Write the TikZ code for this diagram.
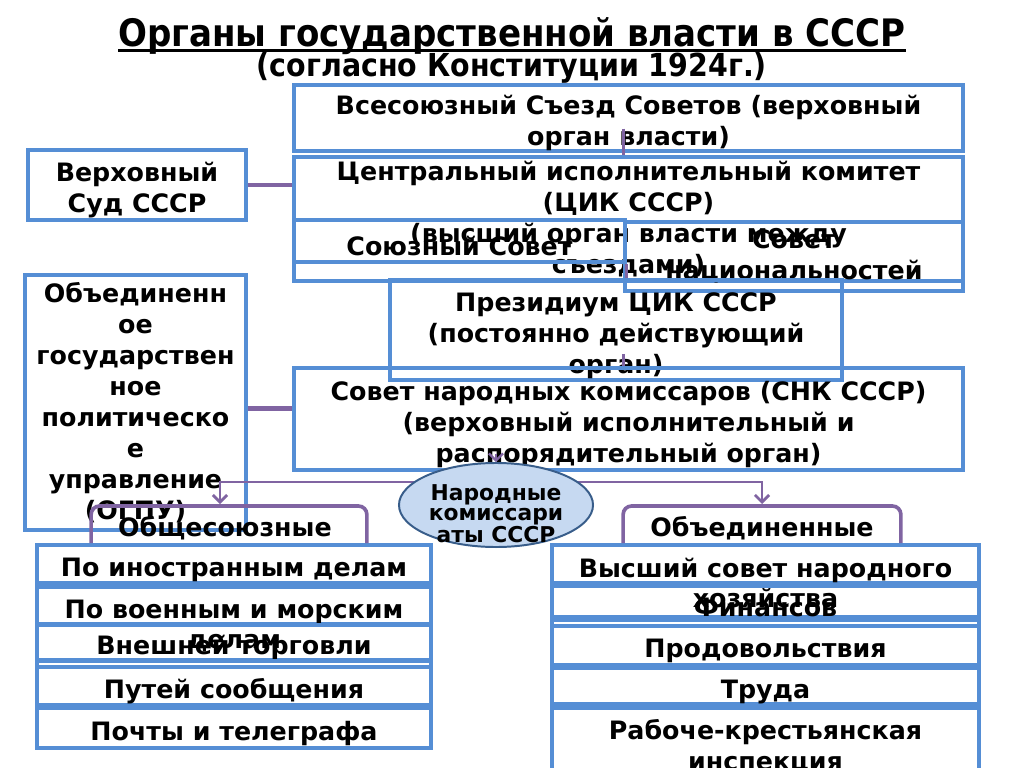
\documentclass[tikz,border=0pt]{standalone}
\usepackage{fontspec}
\setmainfont{DejaVu Sans}
\newfontfamily\titlefont{DejaVu Sans Condensed}
\usetikzlibrary{arrows.meta, positioning, shapes.geometric}
\definecolor{boxblue}{HTML}{558ED5}
\definecolor{linkpurple}{HTML}{8064A2}
\definecolor{ovalfill}{HTML}{C6D9F1}
\definecolor{ovaldraw}{HTML}{385D8A}
\newcommand\organfont{\bfseries\fontsize{18}{22}\selectfont}
\newcommand\dn{\rule{0pt}{21pt}}
\tikzset{
  organ/.style={
    rectangle, draw=boxblue, line width=2.6pt,
    inner sep=0pt, align=center, font=\organfont
  },
  caption/.style={font=\organfont, align=center, inner sep=0pt},
  heading/.style={font=\titlefont\bfseries\fontsize{26.9}{30}\selectfont, inner sep=0pt, anchor=base},
  subheading/.style={font=\titlefont\bfseries\fontsize{22.5}{26}\selectfont, inner sep=0pt, anchor=base},
  oval/.style={
    ellipse, draw=ovaldraw, fill=ovalfill, line width=1.4pt, inner sep=0pt,
    minimum width=4.85cm, minimum height=2.1cm
  },
  link/.style={draw=linkpurple, line width=3.5pt},
  stub/.style={draw=linkpurple, line width=2.2pt},
  fork/.style={draw=linkpurple, line width=2pt,
               {Straight Barb[length=5pt,width=10pt]}-{Straight Barb[length=5pt,width=10pt]}},
  bracket/.style={draw=linkpurple, line width=2.6pt, rounded corners=6pt},
}

\begin{document}
\begin{tikzpicture}[x=0.025cm, y=-0.025cm]
  \fill[white] (0,0) rectangle (1024,768);
  \useasboundingbox (0,0) rectangle (1024,768);

  % title
  \node[heading] (title) at (512,47) {Органы государственной власти в СССР};
  \draw[line width=2pt] ([yshift=-2.6pt]title.base west) -- ([yshift=-2.6pt]title.base east);
  \node[subheading] (subtitle) at (512,77) {(согласно Конституции 1924г.)};

  % higher organs
  \node[organ, minimum width=16.725cm, minimum height=1.6cm] (congress) at (628.5,118)
    {\dn Всесоюзный Съезд Советов (верховный\\орган власти)};
  \node[organ, minimum width=16.725cm, minimum height=3.1cm] (cec) at (628.5,219)
    {Центральный исполнительный комитет\\(ЦИК СССР)\\(высший орган власти между\\съездами)};
  \node[organ, minimum width=8.275cm, minimum height=1.05cm] (union) at (459.5,241)
    {\dn Союзный Совет};
  \node[organ, minimum width=8.45cm, minimum height=1.725cm] (nations) at (794,256.5)
    {Совет\\национальностей};
  \node[organ, minimum width=11.3cm, minimum height=2.5cm] (presid) at (616,330)
    {\dn Президиум ЦИК СССР\\(постоянно действующий\\орган)};
  \node[organ, minimum width=16.725cm, minimum height=2.55cm] (snk) at (628.5,419)
    {\dn Совет народных комиссаров (СНК СССР)\\(верховный исполнительный и\\распорядительный орган)};
  \node[organ, minimum width=5.45cm, minimum height=1.75cm] (court) at (137,185)
    {\dn Верховный\\Суд СССР};
  \node[organ, minimum width=5.525cm, minimum height=6.375cm] (ogpu) at (135.5,402.5)
    {Объединенн\\ое\\государствен\\ное\\политическо\\е\\управление\\(ОГПУ)};

  % commissariats
  \coordinate (forkpt) at (496,482);
  \coordinate (allin) at (220,504);
  \coordinate (jointin) at (762,504);
  \draw[fork] (allin) |- (forkpt) -| (jointin);
  \node[oval] (nk) at (496,505) {};
  \node[font=\bfseries\fontsize{15.5}{14.2}\selectfont, align=center, inner sep=0pt] (nktxt)
    at (496,514) {Народные\\комиссари\\аты СССР};

  \coordinate (alltop) at (229,506);
  \coordinate (jointtop) at (762,506);
  \node[caption] (allunion) at (225,528) {Общесоюзные};
  \node[caption] (joint) at (762,528) {Объединенные};

  % all-union list
  \node[organ, minimum width=9.85cm, minimum height=0.95cm] (foreign) at (234,564) {\dn По иностранным делам};
  \node[organ, minimum width=9.85cm, minimum height=0.925cm] (military) at (234,605.5) {};
  \node[caption] (militarytxt) at (234,626) {По военным и морским\\делам};
  \node[organ, minimum width=9.85cm, minimum height=0.725cm] (trade) at (234,642.5) {\dn Внешней торговли};
  \node[organ, minimum width=9.85cm, minimum height=0.15cm] (tradestrip) at (234,664) {};
  \node[organ, minimum width=9.85cm, minimum height=0.95cm] (route) at (234,686) {\dn Путей сообщения};
  \node[organ, minimum width=9.85cm, minimum height=1cm] (post) at (234,728) {\dn Почты и телеграфа};

  % joint list
  \node[organ, minimum width=10.675cm, minimum height=0.95cm] (vsnh) at (765.5,564) {};
  \node[caption] (vsnhtxt) at (765.5,583) {Высший совет народного\\хозяйства};
  \node[organ, minimum width=10.675cm, minimum height=0.725cm] (finance) at (765.5,601.5) {\dn Финансов};
  \node[organ, minimum width=10.675cm, minimum height=0.15cm] (finstrip) at (765.5,623) {};
  \node[organ, minimum width=10.675cm, minimum height=0.975cm] (food) at (765.5,645.5) {\dn Продовольствия};
  \node[organ, minimum width=10.675cm, minimum height=0.9cm] (labor) at (765.5,686) {\dn Труда};
  \node[organ, minimum width=10.675cm, minimum height=1.7cm] (rki) at (765.5,742)
    {\dn Рабоче-крестьянская\\инспекция};

  % connectors
  \draw[link] (court.east) -- (court.east -| cec.west);
  \draw[link] ([yshift=-0.15cm]ogpu.east) -- ([yshift=-0.15cm]ogpu.east -| snk.west);
  \draw[stub] ([yshift=0.6cm]congress.south -| nations.west) -- (cec.north -| nations.west);
  \draw[stub] (union.south east) -- (presid.north -| union.east);
  \draw[stub] ([yshift=0.7cm]presid.south -| nations.west) -- (snk.north -| nations.west);
  \draw[stub, line width=1.6pt, -{Straight Barb[length=5pt,width=10pt]}]
    ([yshift=0.45cm]snk.south -| nk.north) -- (nk.north);
  \draw[bracket] ([xshift=1.4cm]foreign.north west) |- (alltop) -| ([xshift=-1.65cm]foreign.north east);
  \draw[bracket] ([xshift=1.825cm]vsnh.north west) |- (jointtop) -| ([xshift=-2cm]vsnh.north east);
\end{tikzpicture}
\end{document}
